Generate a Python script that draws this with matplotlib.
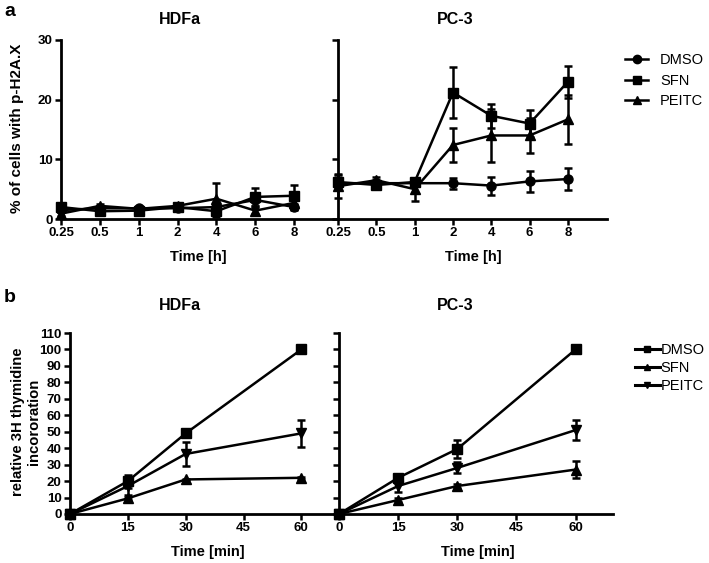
import matplotlib
matplotlib.use("Agg")
import matplotlib.pyplot as plt
import numpy as np
from matplotlib.lines import Line2D

plt.rcParams['font.family'] = ['Liberation Sans', 'DejaVu Sans']

W, H = 709, 563

# panel a data: % of cells with p-H2A.X
hours = ['0.25', '0.5', '1', '2', '4', '6', '8']
a_series = ['DMSO', 'SFN', 'PEITC']
hdfa_a = {
    'DMSO': [1.5, 1.8, 1.8, 1.8, 2.0, 3.2, 2.0],
    'SFN': [2.0, 1.3, 1.4, 2.0, 1.3, 3.7, 3.9],
    'PEITC': [0.9, 2.2, 1.7, 2.2, 3.4, 1.4, 2.7],
}
hdfa_a_err = {
    'DMSO': [0.3, 0.3, 0.3, 0.3, 0.5, 1.0, 0.5],
    'SFN': [0.3, 0.3, 0.3, 0.3, 1.0, 1.5, 1.8],
    'PEITC': [0.4, 0.3, 0.3, 0.3, 2.6, 0.5, 1.0],
}
pc3_a = {
    'DMSO': [6.0, 6.0, 6.0, 6.0, 5.6, 6.3, 6.7],
    'SFN': [6.2, 5.7, 6.2, 21.2, 17.3, 16.0, 23.0],
    'PEITC': [5.5, 6.5, 5.0, 12.4, 14.0, 14.0, 16.7],
}
pc3_a_err = {
    'DMSO': [0.6, 0.5, 0.5, 0.9, 1.5, 1.7, 1.8],
    'SFN': [1.2, 0.7, 0.7, 4.2, 2.0, 2.3, 2.7],
    'PEITC': [2.0, 0.6, 1.9, 2.9, 4.4, 3.0, 4.1],
}
a_markers = {'DMSO': 'o', 'SFN': 's', 'PEITC': '^'}

# panel b data: relative 3H thymidine incorporation
minutes = [0, 15, 30, 60]
b_series = ['DMSO', 'SFN', 'PEITC']
hdfa_b = {
    'DMSO': [0, 20, 49, 100],
    'SFN': [0, 9.5, 21, 22],
    'PEITC': [0, 17, 36.5, 49],
}
hdfa_b_err = {
    'DMSO': [0, 4, 2, 0.5],
    'SFN': [0, 0.8, 0.5, 0.5],
    'PEITC': [0, 5.5, 7.2, 8],
}
pc3_b = {
    'DMSO': [0, 22, 39.5, 100],
    'SFN': [0, 8.5, 17, 27],
    'PEITC': [0, 17, 28, 51],
}
pc3_b_err = {
    'DMSO': [0, 2, 5.3, 0.5],
    'SFN': [0, 1.5, 1, 5],
    'PEITC': [0, 3.7, 3.3, 6.3],
}
b_markers = {'DMSO': 's', 'SFN': '^', 'PEITC': 'v'}


def px_ax(x0, y0, x1, y1):
    return [x0 / W, 1 - y1 / H, (x1 - x0) / W, (y1 - y0) / H]


def ftext(x, y, s, **kw):
    fig.text(x / W, 1 - y / H, s, ha='center', va='center', **kw)


def style(ax, show_labels):
    for s in ['top', 'right']:
        ax.spines[s].set_visible(False)
    for s in ['left', 'bottom']:
        ax.spines[s].set_linewidth(2)
    ax.tick_params(direction='out', length=4, width=1.8, labelsize=9.5, pad=2)
    for lab in ax.get_xticklabels() + ax.get_yticklabels():
        lab.set_fontweight('bold')
    if not show_labels:
        ax.tick_params(axis='y', labelleft=False)


def draw(ax, x, vals, errs, names, markers):
    for n in names:
        ax.errorbar(x, vals[n], yerr=errs[n], color='black', lw=1.8,
                    marker=markers[n], ms=6.5, capsize=3, elinewidth=1.8,
                    capthick=1.8, clip_on=False, zorder=3)


fig = plt.figure(figsize=(W / 100, H / 100), dpi=100)

# panel a
xa = np.arange(len(hours))
ax1 = fig.add_axes(px_ax(61, 40, 338, 219))
ax2 = fig.add_axes(px_ax(338, 40, 607, 219))
draw(ax1, xa, hdfa_a, hdfa_a_err, a_series, a_markers)
draw(ax2, xa, pc3_a, pc3_a_err, a_series, a_markers)
ax1.set_xlim(0, 7.13)
ax2.set_xlim(0, 7.02)
for ax, lab in [(ax1, True), (ax2, False)]:
    ax.set_ylim(0, 30)
    ax.set_yticks([0, 10, 20, 30])
    ax.set_xticks(xa)
    ax.set_xticklabels(hours)
    style(ax, lab)

# panel b
ax3 = fig.add_axes(px_ax(70, 333, 338, 514))
ax4 = fig.add_axes(px_ax(339, 333, 613, 514))
draw(ax3, minutes, hdfa_b, hdfa_b_err, b_series, b_markers)
draw(ax4, minutes, pc3_b, pc3_b_err, b_series, b_markers)
for ax, lab in [(ax3, True), (ax4, False)]:
    ax.set_xlim(0, 69.5)
    ax.set_ylim(0, 110)
    ax.set_yticks(np.arange(0, 111, 10))
    ax.set_xticks([0, 15, 30, 45, 60])
    style(ax, lab)

# titles and labels
ftext(10, 11, 'a', fontsize=14, fontweight='bold')
ftext(10, 298, 'b', fontsize=14, fontweight='bold')
ftext(180, 20, 'HDFa', fontsize=11.5, fontweight='bold')
ftext(455, 20, 'PC-3', fontsize=11.5, fontweight='bold')
ftext(180, 306, 'HDFa', fontsize=11.5, fontweight='bold')
ftext(455, 306, 'PC-3', fontsize=11.5, fontweight='bold')
ftext(198, 257, 'Time [h]', fontsize=10.5, fontweight='bold')
ftext(473, 257, 'Time [h]', fontsize=10.5, fontweight='bold')
ftext(208, 552, 'Time [min]', fontsize=10.5, fontweight='bold')
ftext(478, 552, 'Time [min]', fontsize=10.5, fontweight='bold')
ftext(17, 128, '% of cells with p-H2A.X', fontsize=11, fontweight='bold',
      rotation=90)
ftext(26, 422, 'relative 3H thymidine\nincororation', fontsize=10.7,
      fontweight='bold', rotation=90, linespacing=1.15)

# legends
ha = [Line2D([], [], color='black', lw=1.8, marker=a_markers[n], ms=6)
      for n in a_series]
fig.legend(ha, a_series, loc='upper left', bbox_to_anchor=(612 / W, 1 - 40 / H),
           frameon=False, fontsize=10.5, handlelength=1.6, labelspacing=0.45)
hb = [Line2D([], [], color='black', lw=2.2, marker=b_markers[n], ms=5)
      for n in b_series]
fig.legend(hb, b_series, loc='upper left', bbox_to_anchor=(626 / W, 1 - 334 / H),
           frameon=False, fontsize=10.5, handlelength=1.7, handletextpad=0.05,
           labelspacing=0.3, borderaxespad=0.2)

fig.savefig('out.png', dpi=100)
